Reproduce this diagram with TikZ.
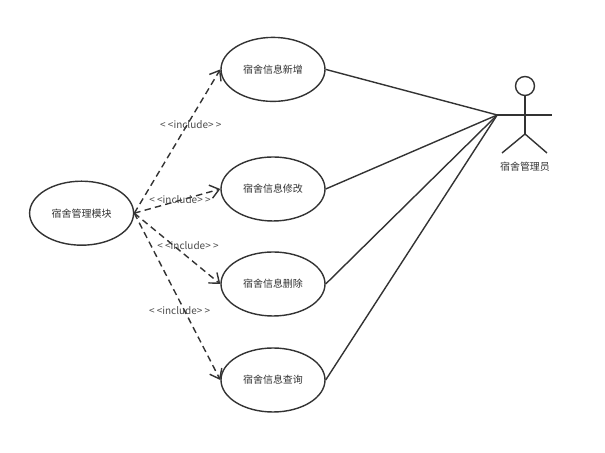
\documentclass[tikz,border=0pt]{standalone}
\usepackage{fontspec}
\setmainfont{Noto Sans CJK SC}
\usetikzlibrary{shapes.geometric, arrows.meta, positioning}

\begin{document}
\begin{tikzpicture}[
        usecase/.style={ellipse, draw=black!80, line width=1pt, minimum width=2.6cm, minimum height=1.6cm, inner sep=0pt, font=\fontsize{7.1}{9}\selectfont, text=black!80},
        include/.style={->, >={Straight Barb[length=2.2mm, width=3.4mm]}, dash pattern=on 4.6pt off 3pt, line width=1pt, color=black!80},
        assoc/.style={line width=1pt, color=black!80},
        lab/.style={font=\fontsize{7.1}{9}\selectfont, text=black!70, inner sep=0pt}
    ]
    \useasboundingbox (0, 0) rectangle (15.125, 11.325);

    % Casos de uso
    \node (module) [usecase] at (2.04, 5.995)  {宿舍管理模块};
    \node (add)    [usecase] at (6.825, 9.59)  {宿舍信息新增};
    \node (edit)   [usecase] at (6.825, 6.6)   {宿舍信息修改};
    \node (remove) [usecase] at (6.825, 4.225) {宿舍信息删除};
    \node (query)  [usecase] at (6.825, 1.825) {宿舍信息查询};

    % Ator
    \node (head) [circle, draw=black!80, line width=1pt, minimum size=0.475cm, inner sep=0pt] at (13.125, 9.175) {};
    \coordinate (handl)    at (12.43, 8.45);
    \coordinate (handr)    at (13.8, 8.45);
    \coordinate (hip)      at (13.125, 7.975);
    \coordinate (footl)    at (12.55, 7.5);
    \coordinate (footr)    at (13.675, 7.5);
    \node (manager) [lab, text=black!80] at (13.125, 7.15) {宿舍管理员};

    \draw [assoc] (head.south) -- (hip);
    \draw [assoc] (handl) -- (handr);
    \draw [assoc] (footl) -- (hip) -- (footr);

    % Linhas ate o ator
    \draw [assoc] (add.east)    -- (handl);
    \draw [assoc] (edit.east)   -- (handl);
    \draw [assoc] (remove.east) -- (handl);
    \draw [assoc] (query.east)  -- (handl);

    % Setas tracejadas
    \draw [include] (module.east) -- (add.west);
    \draw [include] (module.east) -- (edit.west);
    \draw [include] (module.east) -- (remove.west);
    \draw [include] (module.east) -- (query.west);

    % Rotulos
    \node (incadd)    [lab] at (4.77, 8.215) {< <include> >};
    \node (incedit)   [lab] at (4.5, 6.33)   {< <include> >};
    \node (incremove) [lab] at (4.7, 5.175)  {< <include> >};
    \node (incquery)  [lab] at (4.49, 3.57)  {< <include> >};
\end{tikzpicture}
\end{document}
